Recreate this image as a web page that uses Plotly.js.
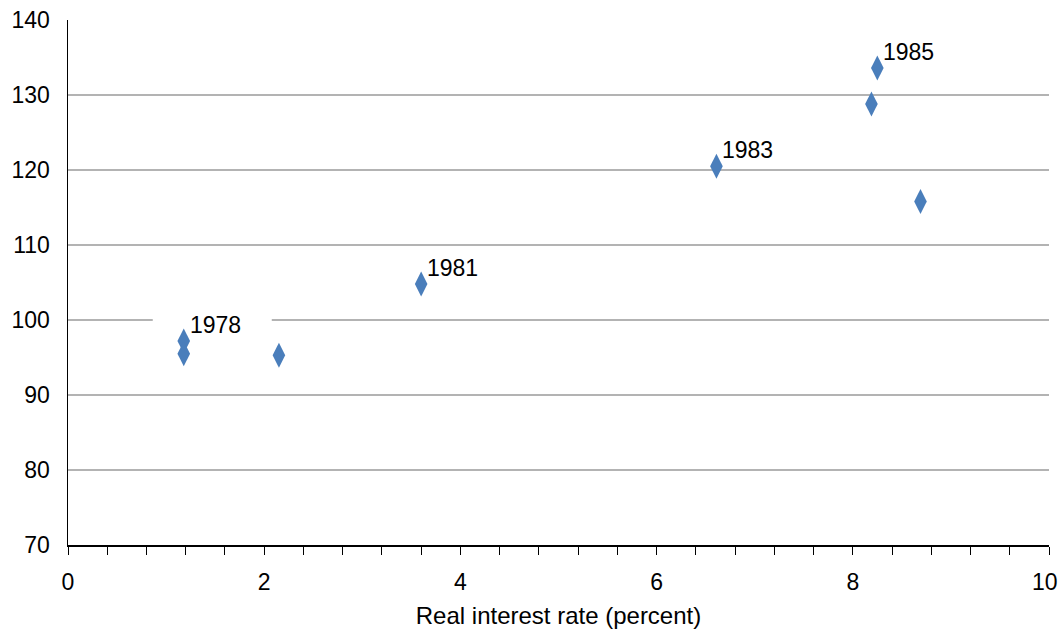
<!DOCTYPE html>
<html>
<head>
<meta charset="utf-8">
<script src="https://cdn.plot.ly/plotly-3.0.1.min.js"></script>
<style>html,body{margin:0;padding:0;background:#fff;}#chart{width:1060px;height:629px;}</style>
</head>
<body>
<div id="chart"></div>
<script>
// Data
const realRate = [1.18, 1.18, 2.15, 3.60, 6.61, 8.19, 8.25, 8.69];
const indexValue = [97.2, 95.5, 95.3, 104.8, 120.5, 128.8, 133.6, 115.8];
const pointLabels = ["1978", "", "", "1981", "1983", "", "1985", ""];
const xTickVals = [0, 2, 4, 6, 8, 10];
const xTickText = ["0", "2", "4", "6", "8", "10"];
const yTickVals = [70, 80, 90, 100, 110, 120, 130, 140];
const xTitle = "Real interest rate (percent)";

const FONT = "Liberation Sans, Arial, Helvetica, sans-serif";

const trace = {
  type: "scatter",
  mode: "markers",
  x: realRate,
  y: indexValue,
  marker: {symbol: "diamond-tall", size: 18, color: "#4a7ebb", line: {width: 0}},
  hoverinfo: "x+y",
  cliponaxis: false
};

const annotations = [];
pointLabels.forEach((lab, i) => {
  if (!lab) return;
  annotations.push({
    x: realRate[i], y: indexValue[i], xref: "x", yref: "y",
    text: lab, showarrow: false,
    xanchor: "left", yanchor: "middle",
    xshift: 4, yshift: 16,
    font: {family: FONT, size: 23, color: "#000"}
  });
});

// the last x tick label sits against the right edge; draw it right-aligned so it is not cut
const lastIdx = xTickVals.length - 1;
const shownTickText = xTickText.map((t, i) => (i === lastIdx ? "" : t));
annotations.push({
  x: xTickVals[lastIdx], y: 0, xref: "x", yref: "paper",
  text: xTickText[lastIdx], showarrow: false,
  xanchor: "right", yanchor: "middle",
  xshift: 11, yshift: -37,
  font: {family: FONT, size: 23, color: "#000"}
});

// white backing behind the first label, interrupting the gridline (as in the reference)
const shapes = [{
  type: "rect", layer: "between",
  xref: "x", yref: "y",
  xsizemode: "pixel", ysizemode: "pixel",
  xanchor: realRate[0], yanchor: 100,
  x0: -31, x1: 88, y0: -3, y1: 3,
  fillcolor: "#ffffff", line: {width: 0}
}];

const layout = {
  width: 1060, height: 629,
  margin: {l: 68, r: 11, t: 20, b: 84},
  paper_bgcolor: "#fff", plot_bgcolor: "#fff",
  showlegend: false,
  font: {family: FONT, size: 23, color: "#000"},
  xaxis: {
    range: [0, 10],
    tickvals: xTickVals,
    ticktext: shownTickText,
    ticks: "outside", ticklen: 8, tickwidth: 1, tickcolor: "#000",
    minor: {dtick: 0.4, tick0: 0, ticks: "outside", ticklen: 8, tickwidth: 1, tickcolor: "#000", showgrid: false},
    showgrid: false, zeroline: false,
    showline: true, linecolor: "#000", linewidth: 1.5,
    tickfont: {family: FONT, size: 23, color: "#000"},
    title: {text: xTitle, font: {family: FONT, size: 24, color: "#000"}, standoff: 13},
    ticklabelstandoff: 8
  },
  yaxis: {
    range: [70, 140],
    tickvals: yTickVals,
    ticks: "",
    showgrid: true, gridcolor: "#b3b3b3", gridwidth: 1.2,
    zeroline: false,
    showline: true, linecolor: "#000", linewidth: 1.5,
    tickfont: {family: FONT, size: 23, color: "#000"},
    ticklabelstandoff: 12
  },
  shapes: shapes,
  annotations: annotations
};

Plotly.newPlot("chart", [trace], layout, {displayModeBar: false, staticPlot: true});
</script>
</body>
</html>
